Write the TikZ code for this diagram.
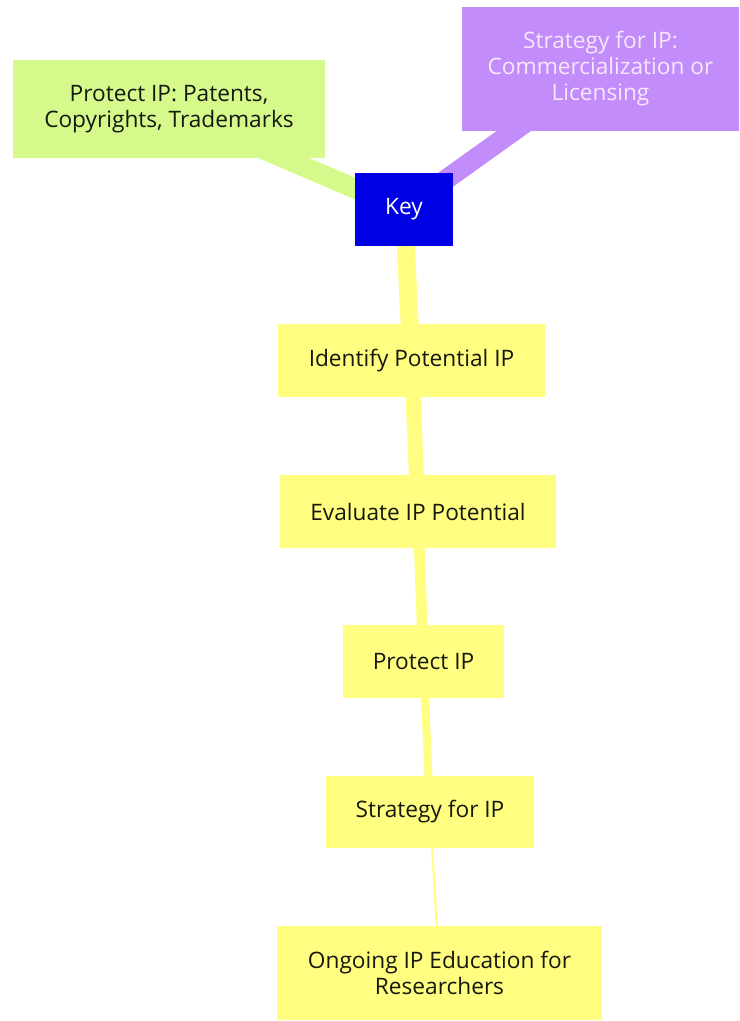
\documentclass[tikz,border=0pt]{standalone}
\usepackage{fontspec}
\setmainfont{Open Sans}
\usetikzlibrary{backgrounds}

\definecolor{leafyellow}{RGB}{255,254,128}
\definecolor{leafgreen}{RGB}{213,250,139}
\definecolor{leafpurple}{RGB}{194,140,250}
\definecolor{rootblue}{RGB}{0,0,228}
\definecolor{inktext}{RGB}{22,24,14}
\definecolor{palelilac}{RGB}{246,232,252}

\begin{document}
\begin{tikzpicture}[x=0.75pt,y=-0.75pt,
  box/.style={rectangle, inner sep=0pt, align=center, text=inktext,
              font=\fontsize{17}{19.5}\selectfont},
  stepbox/.style={box, fill=leafyellow},
  link/.style={line cap=butt}]

\useasboundingbox (0,0) rectangle (739,1021);

% central node and its two side branches
\node[box, fill=rootblue, text=white, minimum width=98*0.75pt, minimum height=73*0.75pt] (key) at (404,209.5) {Key};
\node[box, fill=leafgreen, minimum width=312*0.75pt, minimum height=98*0.75pt] (protectkinds) at (169,109)
  {Protect IP: Patents,\\Copyrights, Trademarks};
\node[box, fill=leafpurple, text=palelilac, minimum width=277*0.75pt, minimum height=124*0.75pt] (strategykinds) at (600.5,69)
  {Strategy for IP:\\Commercialization or\\Licensing};

% chain of steps
\node[stepbox, minimum width=267*0.75pt, minimum height=73*0.75pt] (identify) at (411.5,360.5) {Identify Potential IP};
\node[stepbox, minimum width=276*0.75pt, minimum height=73*0.75pt] (evaluate) at (418,511.5) {Evaluate IP Potential};
\node[stepbox, minimum width=161*0.75pt, minimum height=73*0.75pt] (protect) at (423.5,661.5) {Protect IP};
\node[stepbox, minimum width=208*0.75pt, minimum height=72*0.75pt] (strategy) at (430,812) {Strategy for IP};
\node[stepbox, minimum width=325*0.75pt, minimum height=94*0.75pt] (ongoing) at (439.5,973)
  {Ongoing IP Education for\\Researchers};

% branches, thinning towards the leaves
\begin{scope}[on background layer]
  \draw[link, leafgreen, line width=15pt] (key.center) -- (protectkinds.center);
  \draw[link, leafpurple, line width=15pt] (key.center) -- (strategykinds.center);
  \draw[link, leafyellow, line width=13.5pt] (key.center) -- (identify.center);
  \draw[link, leafyellow, line width=11.25pt] (identify.center) -- (evaluate.center);
  \draw[link, leafyellow, line width=8pt] (evaluate.center) -- (protect.center);
  \draw[link, leafyellow, line width=6pt] (protect.center) -- (strategy.center);
  \draw[link, leafyellow, line width=1.5pt] (strategy.center) -- (ongoing.center);
\end{scope}
\end{tikzpicture}
\end{document}
